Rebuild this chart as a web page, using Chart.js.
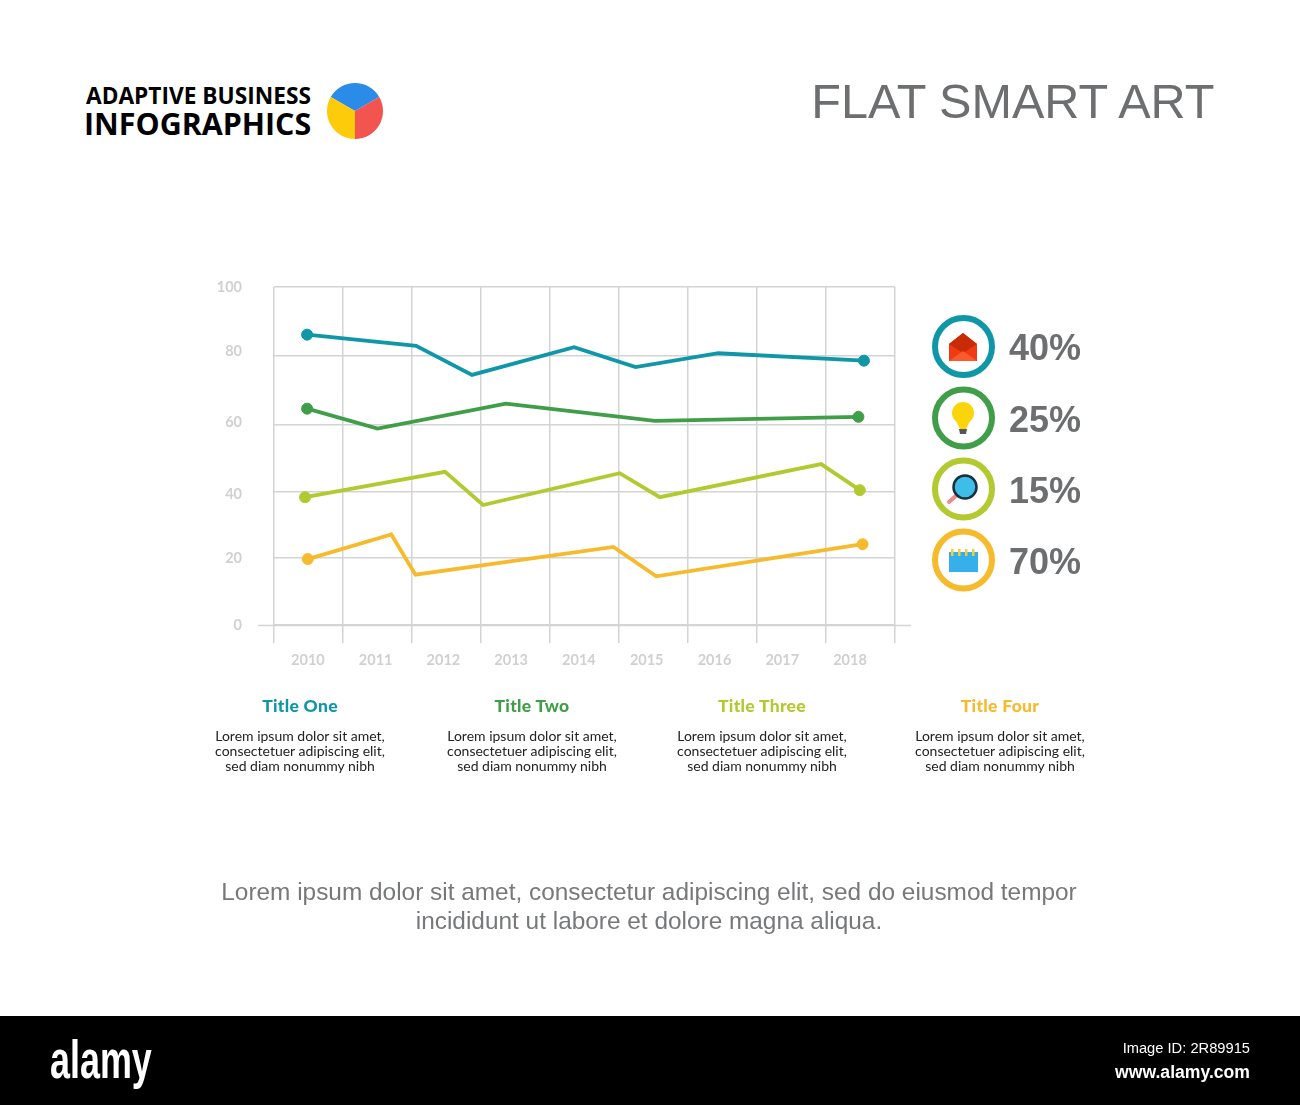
<!DOCTYPE html>
<html>
<head>
<meta charset="utf-8">
<title>Flat Smart Art</title>
<script src="https://cdn.jsdelivr.net/npm/chart.js@4"></script>
<style>
  html, body { margin: 0; padding: 0; background: #fff; }
  #page { position: relative; width: 1300px; height: 1105px; overflow: hidden; background: #fff; }
  #page canvas, #page svg { position: absolute; }
  .t { position: absolute; white-space: nowrap; line-height: 1; }
  .c { transform: translateX(-50%); text-align: center; }
  .blurb { font: 14px/15px Lato, sans-serif; color: #222; }
  .heading { font: 900 17.5px Lato, sans-serif; letter-spacing: .3px; }
  .pct { font: bold 36px "Liberation Sans", sans-serif; color: #6d6e70; left: 1009px; }
  #banner { position: absolute; left: 0; top: 1016px; width: 1300px; height: 89px; background: #000; }
</style>
</head>
<body>
<div id="page">
  <div class="t" style="left:86px;top:80px;font:bold 22.7px 'Open Sans',sans-serif;color:#000">ADAPTIVE BUSINESS</div>
  <div class="t" style="left:84px;top:103px;font:bold 30.4px 'Open Sans',sans-serif;color:#000">INFOGRAPHICS</div>
  <canvas id="logoPie" width="60" height="60" style="left:325px;top:81px"></canvas>
  <div class="t" style="right:85.5px;top:73px;font:48.6px 'Liberation Sans',sans-serif;color:#6d6e70">FLAT SMART ART</div>

  <canvas id="lines" width="760" height="410" style="left:200px;top:270px"></canvas>

  <svg id="rings" width="1300" height="1105" style="left:0;top:0"></svg>
  <div id="labels"></div>

  <div class="t c" style="left:649px;top:877px;font:24.4px/29px 'Liberation Sans',sans-serif;color:#77787a">Lorem ipsum dolor sit amet, consectetur adipiscing elit, sed do eiusmod tempor<br>incididunt ut labore et dolore magna aliqua.</div>

  <div id="banner"></div>
  <div class="t" style="left:50px;top:1028px;font:bold 54px 'Liberation Sans',sans-serif;color:#fff;transform:scaleX(.665);transform-origin:left top">alamy</div>
  <div class="t" style="right:50px;top:1040px;font:14.7px 'Liberation Sans',sans-serif;color:#fff">Image ID: 2R89915</div>
  <div class="t" style="right:50px;top:1062px;font:bold 17.6px 'Liberation Sans',sans-serif;color:#fff">www.alamy.com</div>
</div>

<script>
// Axis labels and where they sit (the labels drift slightly from the grid in the original)
const years = ['2010', '2011', '2012', '2013', '2014', '2015', '2016', '2017', '2018'];
const yLabels = ['0', '20', '40', '60', '80', '100'];
const yLabelPositions = [0, 19.8, 38.8, 59.9, 80.9, 100];
const yGridLines = [0, 19.8, 39.5, 59.1, 79.6, 100];
const xGridLines = [2009.5, 2010.5, 2011.5, 2012.5, 2013.5, 2014.5, 2015.5, 2016.5, 2017.5, 2018.5];

// Series. The bends do not fall on the years.
const tealX = [2009.98, 2011.56, 2012.37, 2013.85, 2014.74, 2015.94, 2018.05];
const tealY = [85.9, 82.6, 74.0, 82.2, 76.3, 80.4, 78.2];
const greenX = [2009.98, 2011.0, 2012.86, 2015.02, 2017.97];
const greenY = [64.0, 58.1, 65.5, 60.4, 61.6];
const limeX = [2009.95, 2011.98, 2012.53, 2014.51, 2015.09, 2017.43, 2017.99];
const limeY = [37.8, 45.3, 35.5, 44.9, 37.8, 47.6, 39.9];
const yellowX = [2009.99, 2011.2, 2011.55, 2014.42, 2015.04, 2018.03];
const yellowY = [19.5, 26.8, 14.9, 23.1, 14.4, 23.9];

const percents = ['40%', '25%', '15%', '70%'];
const titles = ['Title One', 'Title Two', 'Title Three', 'Title Four'];
const logoShares = [1, 1, 1];

const TEAL = '#0f97a8', GREEN = '#3f9e47', LIME = '#b3c930', YELLOW = '#f6ba2d';
const GRID = '#d3d4d6', TICK_TEXT = '#cfd0d2';

function series(xs, ys, color) {
  return {
    data: xs.map((x, i) => ({ x: x, y: ys[i] })),
    borderColor: color,
    backgroundColor: color,
    borderWidth: 3.8,
    tension: 0,
    borderJoinStyle: 'miter',
    // only the two ends get a dot
    pointRadius: ctx => (ctx.dataIndex === 0 || ctx.dataIndex === xs.length - 1) ? 5.5 : 0,
    pointBorderWidth: 1,
    pointHoverRadius: 5.5
  };
}

function setTicks(values) {
  return scale => { scale.ticks = values.map(v => ({ value: v })); };
}

// baseline sticks out of the grid on both sides
const zeroLine = {
  id: 'zeroLine',
  beforeDatasetsDraw(chart) {
    const area = chart.chartArea;
    const y = Math.round(chart.scales.y.getPixelForValue(0)) + 0.5;
    const c = chart.ctx;
    c.save();
    c.strokeStyle = GRID;
    c.lineWidth = 1.5;
    c.beginPath();
    c.moveTo(area.left - 16, y);
    c.lineTo(area.right + 16, y);
    c.stroke();
    c.restore();
  }
};

const tickFont = { family: 'Lato', size: 14.5, weight: 'bold' };

new Chart(document.getElementById('lines'), {
  type: 'line',
  data: {
    datasets: [
      series(tealX, tealY, TEAL),
      series(greenX, greenY, GREEN),
      series(limeX, limeY, LIME),
      series(yellowX, yellowY, YELLOW)
    ]
  },
  options: {
    responsive: false,
    animation: false,
    layout: { padding: { top: 17, right: 65, left: 0, bottom: 0 } },
    plugins: { legend: { display: false }, tooltip: { enabled: false } },
    scales: {
      x: {
        type: 'linear', position: 'bottom', min: 2009.5, max: 2018.5,
        afterBuildTicks: setTicks(xGridLines),
        afterFit: s => { s.height = 18; },
        ticks: { display: false },
        grid: { color: GRID, tickColor: GRID, tickLength: 18, lineWidth: 1.5 },
        border: { display: false }
      },
      xYears: {
        type: 'linear', position: 'bottom', min: 2009.5, max: 2018.664,
        afterBuildTicks: setTicks(years.map(Number)),
        afterFit: s => { s.height = 37; },
        ticks: { color: TICK_TEXT, font: tickFont, padding: 9, maxRotation: 0, autoSkip: false, callback: v => String(v) },
        grid: { display: false, drawTicks: false },
        border: { display: false }
      },
      y: {
        type: 'linear', position: 'left', min: 0, max: 100,
        afterBuildTicks: setTicks(yGridLines),
        afterFit: s => { s.width = 0; s.paddingTop = 0; s.paddingBottom = 0; },
        ticks: { display: false },
        grid: { color: GRID, drawTicks: false, lineWidth: 1.5 },
        border: { display: false }
      },
      yNumbers: {
        type: 'linear', position: 'left', min: 0, max: 100,
        afterBuildTicks: setTicks(yLabelPositions),
        // tick padding would otherwise also push the plot area down
        afterFit: s => { s.width = 74; s.paddingTop = 0; s.paddingBottom = 0; },
        ticks: { color: TICK_TEXT, font: tickFont, padding: 32, callback: (v, i) => yLabels[i] },
        grid: { display: false, drawTicks: false },
        border: { display: false }
      }
    }
  },
  plugins: [zeroLine]
});

new Chart(document.getElementById('logoPie'), {
  type: 'pie',
  data: { datasets: [{ data: logoShares, backgroundColor: ['#2b8be8', '#f25450', '#fecb0a'], borderWidth: 0 }] },
  options: {
    responsive: false,
    animation: false,
    rotation: -60,
    layout: { padding: 2 },
    plugins: { legend: { display: false }, tooltip: { enabled: false } }
  }
});

// Legend rings with their icons
const ringY = [346.5, 418, 489, 560];
const ringColors = [TEAL, GREEN, LIME, YELLOW];
const icons = [
  // envelope
  '<path d="M949 344 L963 333 L977 344 V361 H949 Z" fill="#ee3b14"/><path d="M949 344 L963 333 L977 344 L963 353 Z" fill="#c92a08"/><path d="M949 361 L963 351 L977 361 Z" fill="#fb5a30"/>',
  // light bulb
  '<circle cx="963" cy="413" r="11" fill="#fbd40c"/><path d="M956 421 L960 429 H966 L970 421 Z" fill="#fbd40c"/><path d="M959 429 H967 L966 434 H960 Z" fill="#55565a"/>',
  // magnifier
  '<line x1="949" y1="502" x2="958" y2="494" stroke="#f08a8a" stroke-width="4" stroke-linecap="round"/><circle cx="965" cy="487" r="11.5" fill="#3dbde8" stroke="#17303f" stroke-width="2.5"/>',
  // notepad
  '<rect x="949" y="552" width="29" height="20" fill="#35b0ea"/><g fill="#f2cf3a"><rect x="951" y="549" width="2.5" height="7"/><rect x="958" y="549" width="2.5" height="7"/><rect x="965" y="549" width="2.5" height="7"/><rect x="972" y="549" width="2.5" height="7"/></g>'
];
document.getElementById('rings').innerHTML = ringY.map((y, i) =>
  '<circle cx="963.5" cy="' + y + '" r="28.5" fill="#fff" stroke="' + ringColors[i] + '" stroke-width="6"/>' + icons[i]
).join('');

// Percent labels and the four text columns
const columnX = [300, 532, 762, 1000];
const blurb = 'Lorem ipsum dolor sit amet,<br>consectetuer adipiscing elit,<br>sed diam nonummy nibh';
let html = '';
percents.forEach((p, i) => {
  html += '<div class="t pct" style="top:' + (ringY[i] - 19.5) + 'px">' + p + '</div>';
});
titles.forEach((title, i) => {
  html += '<div class="t c heading" style="left:' + columnX[i] + 'px;top:695px;color:' + ringColors[i] + '">' + title + '</div>';
  html += '<div class="t c blurb" style="left:' + columnX[i] + 'px;top:728px">' + blurb + '</div>';
});
document.getElementById('labels').innerHTML = html;
</script>
</body>
</html>
